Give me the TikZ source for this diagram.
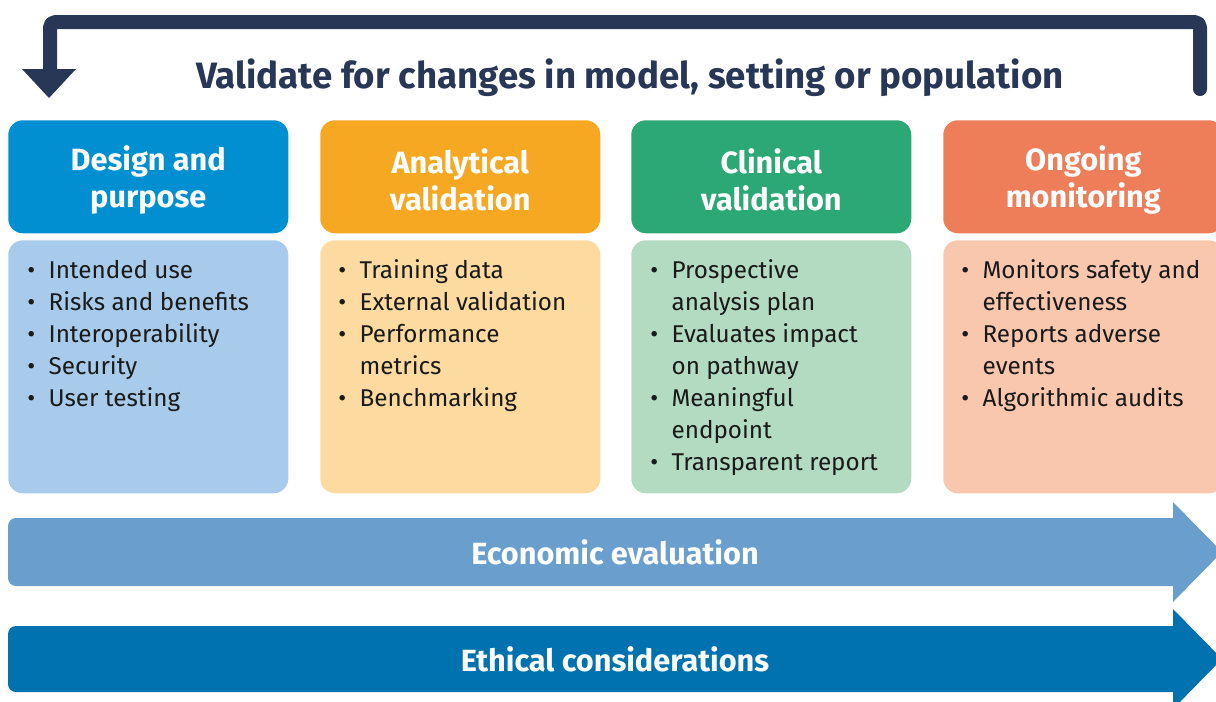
\documentclass[tikz,border=0pt]{standalone}
\usepackage{fontspec}
\setmainfont{Fira Sans}
\usetikzlibrary{calc}
\definecolor{navy}{HTML}{293756}
\definecolor{hA}{HTML}{008FD1}
\definecolor{bA}{HTML}{A8CBEB}
\definecolor{hB}{HTML}{F7A823}
\definecolor{bB}{HTML}{FDDBA0}
\definecolor{hC}{HTML}{2CA776}
\definecolor{bC}{HTML}{B3DBC1}
\definecolor{hD}{HTML}{EE7D5A}
\definecolor{bD}{HTML}{F9C7AE}
\definecolor{econ}{HTML}{6A9ECC}
\definecolor{ethic}{HTML}{0072AF}
\definecolor{txt}{HTML}{1A1A1A}
\newcommand\blist[1]{{\fontsize{18.2}{24}\selectfont\begin{tabular}{@{}p{16pt}@{}l@{}}#1\end{tabular}}}
\begin{document}
\begin{tikzpicture}[x=0.75pt,y=-0.75pt,
  hdr/.style={rounded corners=11pt, minimum width=210pt, minimum height=84.75pt, inner sep=0pt, anchor=north west},
  hdrtxt/.style={text=white, font=\fontsize{23}{27.75}\selectfont\bfseries, align=center, inner sep=0pt},
  bodybox/.style={rounded corners=11pt, minimum width=210pt, minimum height=189.75pt, inner sep=0pt, anchor=north west},
  listtxt/.style={text=txt, inner sep=0pt, anchor=north west},
  band/.style={text=white, font=\fontsize{23}{28}\selectfont\bfseries, inner sep=0pt}]
\useasboundingbox (0,0) rectangle (1216,701);
% top feedback arrow
\node[text=navy, font=\fontsize{27.5}{32}\selectfont\bfseries, inner sep=0pt] (title) at (630,78) {Validate for changes in model, setting or population};
\coordinate (fbstart) at (1200,89);
\coordinate (fbend) at (50,72);
\draw[navy, line width=10.5pt, line cap=round, line join=round, rounded corners=4pt]
  (fbstart) -- (1200,22) -- (50,22) -- (fbend);
\fill[navy] (22,69) -- (76,69) -- (49,98) -- cycle;
% columns
\node[hdr, fill=hA] (hA) at (8,120) {};
\node[hdrtxt] (hAt) at ($(hA.center)+(0,3)$) {Design and\\purpose};
\node[bodybox, fill=bA] (bA) at (8,240) {};
\node[listtxt] (tA) at (27,256) {\blist{\textbullet & Intended use\\ \textbullet & Risks and benefits\\ \textbullet & Interoperability\\ \textbullet & Security\\ \textbullet & User testing}};

\node[hdr, fill=hB] (hB) at (320,120) {};
\node[hdrtxt] (hBt) at ($(hB.center)+(0,3)$) {Analytical\\validation};
\node[bodybox, fill=bB] (bB) at (320,240) {};
\node[listtxt] (tB) at (338,256) {\blist{\textbullet & Training data\\ \textbullet & External validation\\ \textbullet & Performance\\ & metrics\\ \textbullet & Benchmarking}};

\node[hdr, fill=hC] (hC) at (631,120) {};
\node[hdrtxt] (hCt) at ($(hC.center)+(0,3)$) {Clinical\\validation};
\node[bodybox, fill=bC] (bC) at (631,240) {};
\node[listtxt] (tC) at (650,256) {\blist{\textbullet & Prospective\\ & analysis plan\\ \textbullet & Evaluates impact\\ & on pathway\\ \textbullet & Meaningful\\ & endpoint\\ \textbullet & Transparent report}};

\node[hdr, fill=hD] (hD) at (943,120) {};
\node[hdrtxt] (hDt) at ($(hD.center)+(0,3)$) {Ongoing\\monitoring};
\node[bodybox, fill=bD] (bD) at (943,240) {};
\node[listtxt] (tD) at (961,256) {\blist{\textbullet & Monitors safety and\\ & effectiveness\\ \textbullet & Reports adverse\\ & events\\ \textbullet & Algorithmic audits}};
% bottom bands
\fill[econ, rounded corners=6pt] (8,518) rectangle (1185,586);
\fill[econ] (1173,502) -- (1222,552) -- (1173,602) -- cycle;
\node[band] (econ) at (615,552) {Economic evaluation};
\fill[ethic, rounded corners=6pt] (8,626) rectangle (1185,692);
\fill[ethic] (1173,609) -- (1222,659) -- (1173,709) -- cycle;
\node[band] (ethic) at (615,659) {Ethical considerations};
\end{tikzpicture}
\end{document}
